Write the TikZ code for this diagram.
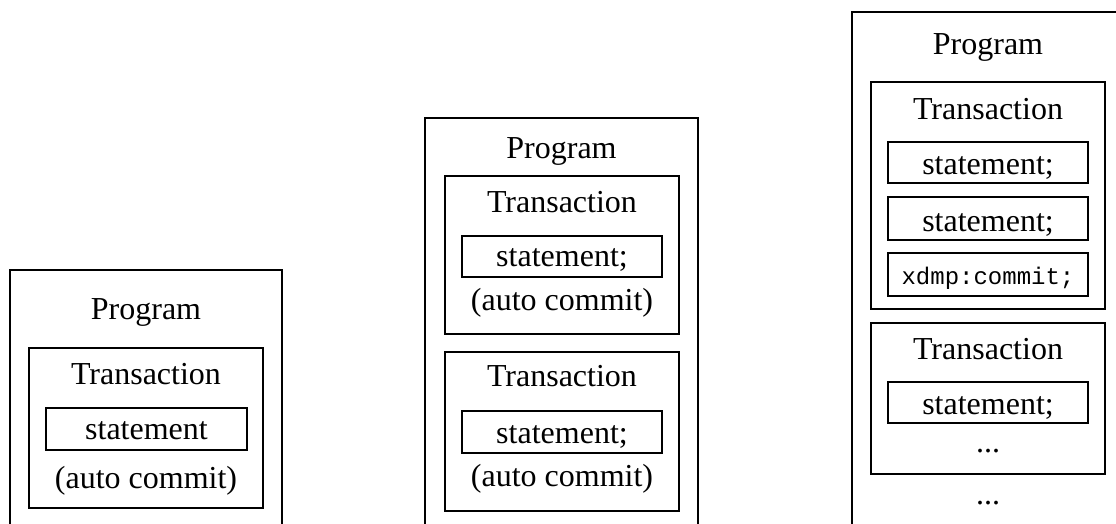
\documentclass[tikz,border=0pt]{standalone}
\usepackage{fontspec}
\setmainfont{Liberation Serif}
\setmonofont{Liberation Mono}
\begin{document}
\begin{tikzpicture}[x=1pt,y=-1pt,
  lw/.style={line width=2.6pt},
  frame/.style={draw, lw},
  box/.style={draw, lw, inner sep=0pt, rectangle},
  txt/.style={anchor=base, inner sep=0pt, font=\fontsize{32}{35}\selectfont},
  mono/.style={anchor=base, inner sep=0pt, font=\ttfamily\fontsize{24}{28}\selectfont}]
\clip (0,0) rectangle (1116,523);
\fill[white] (0,0) rectangle (1116,523);

% ---------- left program ----------
\coordinate (pAbl) at (10,540);
\coordinate (pAtr) at (282,270);
\coordinate (pAbr) at (282,540);
\draw[frame] (pAbl) |- (pAtr) -- (pAbr);
\node[txt] (pAlab) at (146,319) {Program};
\node[box, minimum width=234pt, minimum height=160pt] (tA) at (146,428) {};
\node[txt] (tAlab) at (146,384) {Transaction};
\node[box, minimum width=201pt, minimum height=42pt] (sA) at (146.5,429) {};
\node[txt] (sAlab) at (146.5,439) {statement};
\node[txt] (aA) at (146,488) {(auto commit)};

% ---------- middle program ----------
\coordinate (pBbl) at (425,540);
\coordinate (pBtr) at (698,118);
\coordinate (pBbr) at (698,540);
\draw[frame] (pBbl) |- (pBtr) -- (pBbr);
\node[txt] (pBlab) at (561.5,158) {Program};
\node[box, minimum width=234pt, minimum height=158pt] (tB1) at (562,255) {};
\node[txt] (tB1lab) at (562,212) {Transaction};
\node[box, minimum width=200pt, minimum height=41pt] (sB1) at (562,256.5) {};
\node[txt] (sB1lab) at (562,266) {statement;};
\node[txt] (aB1) at (562,310) {(auto commit)};
\node[box, minimum width=234pt, minimum height=159pt] (tB2) at (562,431.5) {};
\node[txt] (tB2lab) at (562,386) {Transaction};
\node[box, minimum width=200pt, minimum height=42pt] (sB2) at (562,432) {};
\node[txt] (sB2lab) at (562,443) {statement;};
\node[txt] (aB2) at (562,486) {(auto commit)};

% ---------- right program ----------
\coordinate (pCbl) at (852,540);
\coordinate (pCtr) at (1124,12);
\coordinate (pCbr) at (1124,540);
\draw[frame] (pCbl) |- (pCtr) -- (pCbr);
\node[txt] (pClab) at (988,54) {Program};
\node[box, minimum width=234pt, minimum height=227pt] (tC1) at (988,195.5) {};
\node[txt] (tC1lab) at (988,119) {Transaction};
\node[box, minimum width=200pt, minimum height=41pt] (sC1) at (988,162.5) {};
\node[txt] (sC1lab) at (988,174) {statement;};
\node[box, minimum width=200pt, minimum height=43pt] (sC2) at (988,218.5) {};
\node[txt] (sC2lab) at (988,231) {statement;};
\node[box, minimum width=200pt, minimum height=43pt] (sC3) at (988,274.5) {};
\node[mono] (sC3lab) at (988,284) {xdmp:commit;};
\node[box, minimum width=234pt, minimum height=151pt] (tC2) at (988,398.5) {};
\node[txt] (tC2lab) at (988,359) {Transaction};
\node[box, minimum width=200pt, minimum height=41pt] (sC4) at (988,402.5) {};
\node[txt] (sC4lab) at (988,414) {statement;};
\node[txt] (dC1) at (988,452) {...};
\node[txt] (dC2) at (988,504) {...};
\end{tikzpicture}
\end{document}
